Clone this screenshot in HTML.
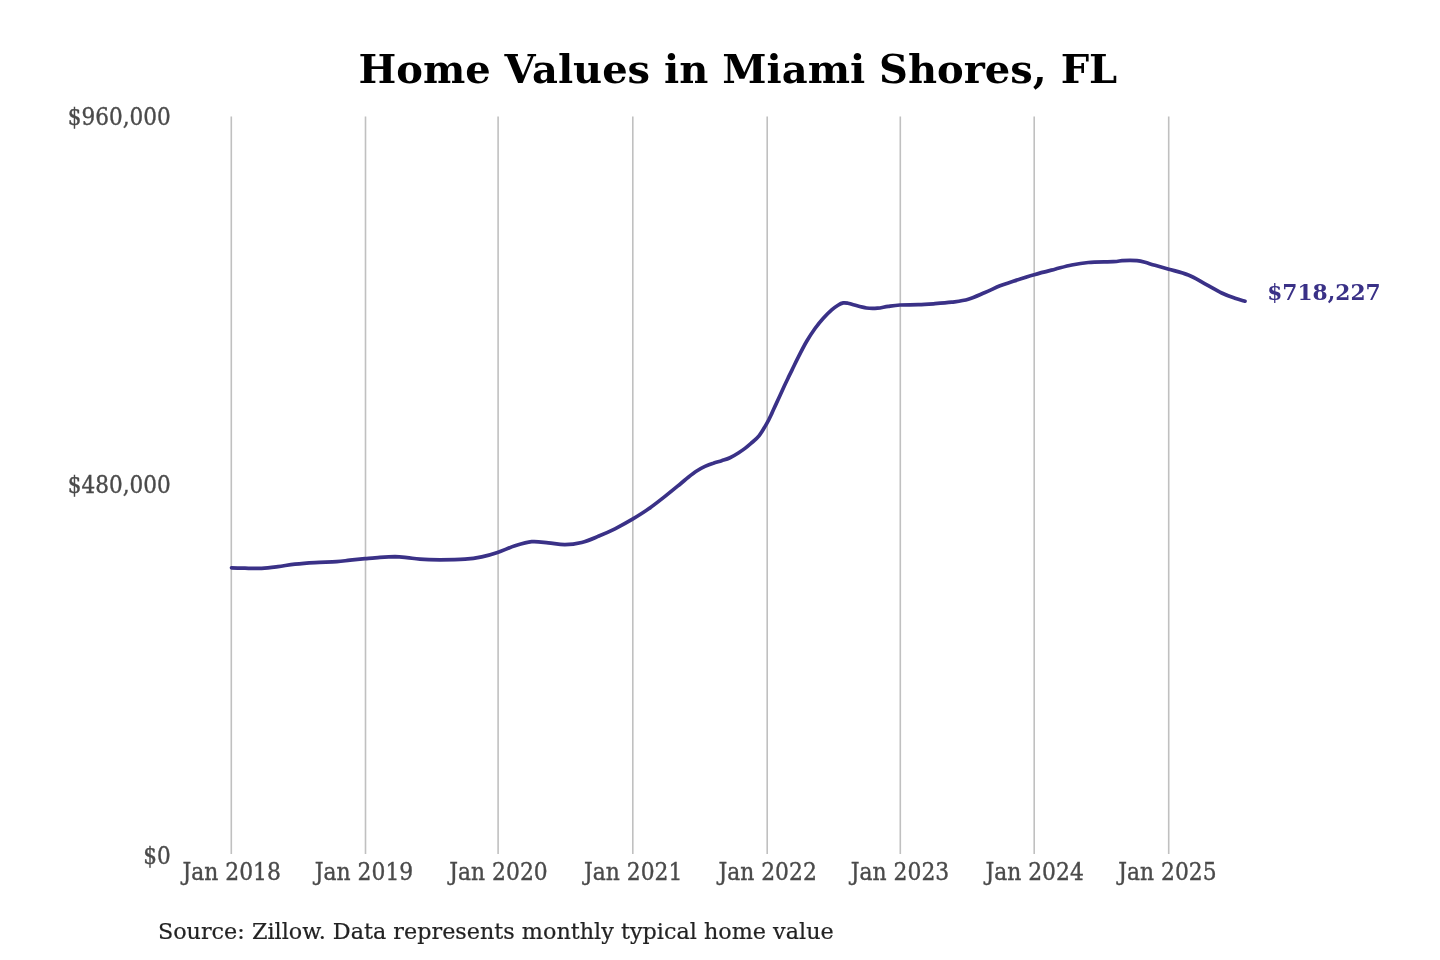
<!DOCTYPE html>
<html lang="en"><head><meta charset="utf-8"><title>Home Values in Miami Shores, FL</title>
<style>
html,body{margin:0;padding:0;background:#fff;}
body{width:1440px;height:960px;overflow:hidden;font-family:"DejaVu Serif","Liberation Serif",serif;}
svg{display:block;}
text{font-family:"DejaVu Serif","Liberation Serif",serif;}
.title{font-size:40px;font-weight:bold;fill:#000;text-anchor:middle;}
.ytick text{font-size:21.6px;fill:#4a4a4a;text-anchor:end;stroke:#4a4a4a;stroke-width:0.35;}
.xtick text{font-size:21.85px;fill:#4a4a4a;text-anchor:middle;stroke:#4a4a4a;stroke-width:0.35;}
.grid line{stroke:#c0c0c0;stroke-width:1.6;}
.series{fill:none;stroke:#3a3187;stroke-width:3.7;stroke-linecap:round;stroke-linejoin:round;}
.endlabel{font-size:21.76px;font-weight:bold;fill:#3a3187;}
.source{font-size:22.3px;fill:#222;stroke:#222;stroke-width:0.2;}
</style></head>
<body>
<svg width="1440" height="960" viewBox="0 0 1440 960">
<rect width="1440" height="960" fill="#ffffff"/>
<text class="title" x="737.8" y="82.8">Home Values in Miami Shores, FL</text>
<g class="grid"><line x1="231.3" x2="231.3" y1="116.5" y2="854"/><line x1="365.5" x2="365.5" y1="116.5" y2="854"/><line x1="498.1" x2="498.1" y1="116.5" y2="854"/><line x1="632.8" x2="632.8" y1="116.5" y2="854"/><line x1="767.2" x2="767.2" y1="116.5" y2="854"/><line x1="900.3" x2="900.3" y1="116.5" y2="854"/><line x1="1034.2" x2="1034.2" y1="116.5" y2="854"/><line x1="1168.7" x2="1168.7" y1="116.5" y2="854"/></g>
<g class="ytick">
<text transform="translate(170.7,124.9) scale(1,1.11)">$960,000</text>
<text transform="translate(170.7,492.8) scale(1,1.11)">$480,000</text>
<text transform="translate(170.7,864.2) scale(1,1.11)">$0</text>
</g>
<g class="xtick"><text transform="translate(231.7,879.5) scale(1,1.08)">Jan 2018</text><text transform="translate(364.0,879.5) scale(1,1.08)">Jan 2019</text><text transform="translate(498.5,879.5) scale(1,1.08)">Jan 2020</text><text transform="translate(633.2,879.5) scale(1,1.08)">Jan 2021</text><text transform="translate(767.6,879.5) scale(1,1.08)">Jan 2022</text><text transform="translate(900.0,879.5) scale(1,1.08)">Jan 2023</text><text transform="translate(1034.6,879.5) scale(1,1.08)">Jan 2024</text><text transform="translate(1167.4,879.5) scale(1,1.08)">Jan 2025</text></g>
<path class="series" d="M231.5,567.8 C233.8,567.9 240.0,568.1 245.0,568.2 C250.0,568.3 256.2,568.6 261.7,568.3 C267.2,568.0 272.4,567.3 278.0,566.6 C283.6,565.9 288.8,564.9 295.0,564.2 C301.2,563.5 308.1,563.0 315.0,562.6 C321.9,562.2 330.9,562.1 336.7,561.7 C342.5,561.3 345.3,560.7 350.0,560.2 C354.7,559.7 360.0,559.2 365.0,558.7 C370.0,558.2 375.0,557.6 380.0,557.3 C385.0,557.0 390.5,556.7 395.0,556.7 C399.5,556.8 402.8,557.2 407.0,557.6 C411.2,558.0 414.5,558.8 420.0,559.2 C425.5,559.6 432.5,559.8 440.0,559.8 C447.5,559.8 458.1,559.7 465.0,559.2 C471.9,558.7 476.3,558.0 481.7,556.9 C487.1,555.8 491.9,554.4 497.5,552.5 C503.1,550.6 509.3,547.6 515.0,545.8 C520.7,544.0 526.2,542.2 531.7,541.7 C537.2,541.2 542.8,542.3 548.3,542.8 C553.8,543.3 559.4,544.8 565.0,544.7 C570.6,544.7 576.2,543.9 581.7,542.5 C587.2,541.1 592.8,538.6 598.3,536.3 C603.8,534.0 609.3,531.6 615.0,528.8 C620.7,525.9 627.0,522.5 632.5,519.2 C638.0,515.9 642.9,512.9 648.3,509.1 C653.7,505.3 659.7,500.6 665.0,496.4 C670.3,492.2 676.1,487.4 680.0,484.2 C683.9,481.0 685.5,479.4 688.3,477.2 C691.1,475.0 693.9,472.8 696.7,471.0 C699.5,469.2 702.2,467.7 705.0,466.4 C707.8,465.1 710.5,464.1 713.3,463.2 C716.1,462.2 718.9,461.6 721.7,460.7 C724.5,459.8 727.2,459.1 730.0,457.8 C732.8,456.5 735.8,454.6 738.3,453.0 C740.8,451.4 742.9,450.0 745.0,448.4 C747.1,446.8 748.6,445.5 751.0,443.4 C753.4,441.3 756.6,438.9 759.2,435.6 C761.8,432.3 764.6,427.3 766.7,423.6 C768.8,419.9 770.2,416.8 771.7,413.6 C773.2,410.4 774.4,407.6 775.8,404.6 C777.2,401.6 778.6,398.5 780.0,395.4 C781.4,392.3 782.8,389.2 784.2,386.2 C785.6,383.2 787.0,380.3 788.3,377.6 C789.6,374.9 790.4,373.2 792.1,369.8 C793.8,366.4 795.9,361.9 798.3,357.2 C800.7,352.4 803.9,346.1 806.7,341.3 C809.5,336.5 812.2,332.4 815.0,328.5 C817.8,324.6 820.5,321.3 823.3,318.2 C826.1,315.1 829.2,312.0 831.7,309.8 C834.2,307.6 836.1,306.4 838.0,305.2 C839.9,304.0 841.6,303.2 843.3,302.9 C845.0,302.6 846.3,302.9 848.0,303.2 C849.7,303.5 850.2,303.9 853.3,304.7 C856.4,305.5 862.5,307.4 866.5,308.0 C870.5,308.6 873.9,308.5 877.5,308.2 C881.1,307.9 884.5,306.8 888.3,306.3 C892.0,305.8 895.0,305.3 900.0,305.0 C905.0,304.7 912.5,304.9 918.3,304.7 C924.1,304.5 929.4,304.1 935.0,303.7 C940.6,303.3 946.2,302.9 951.7,302.2 C957.2,301.4 962.8,300.8 968.3,299.2 C973.8,297.6 979.7,294.7 985.0,292.5 C990.3,290.3 995.3,287.7 1000.0,285.8 C1004.7,283.9 1007.6,283.2 1013.3,281.3 C1019.0,279.4 1027.2,276.7 1034.2,274.7 C1041.2,272.7 1048.8,270.8 1055.0,269.2 C1061.2,267.6 1066.2,266.1 1071.7,265.0 C1077.2,263.9 1081.4,263.1 1088.3,262.5 C1095.2,261.9 1107.7,262.0 1113.3,261.7 C1118.9,261.4 1119.2,260.9 1122.0,260.7 C1124.8,260.5 1127.5,260.3 1130.0,260.3 C1132.5,260.3 1134.5,260.3 1137.0,260.6 C1139.5,260.9 1142.0,261.5 1145.0,262.3 C1148.0,263.1 1151.0,264.2 1155.0,265.3 C1159.0,266.4 1163.2,267.6 1168.8,269.2 C1174.3,270.8 1182.3,272.6 1188.3,275.0 C1194.3,277.4 1199.4,280.8 1205.0,283.8 C1210.6,286.8 1216.7,290.6 1221.7,293.0 C1226.7,295.4 1231.1,296.9 1235.0,298.3 C1238.9,299.7 1243.3,300.7 1245.0,301.2"/>
<text class="endlabel" transform="translate(1267.2,300) scale(1,1.045)">$718,227</text>
<text class="source" transform="translate(157.9,938.8) scale(1,1.04)">Source: Zillow. Data represents monthly typical home value</text>
</svg>
</body></html>
